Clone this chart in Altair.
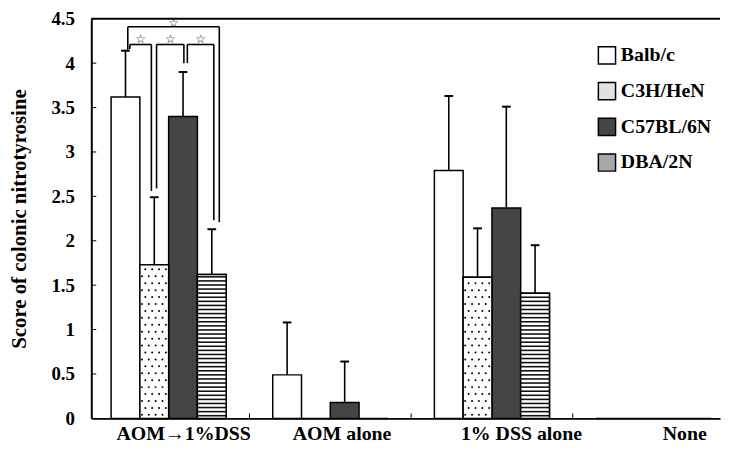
import altair as alt
import numpy as np
import pandas as pd

# ---------------- data ----------------
categories = ["AOM→1%DSS", "AOM alone", "1% DSS alone", "None"]
strains = ["Balb/c", "C3H/HeN", "C57BL/6N", "DBA/2N"]

mean_balbc = [3.62, 0.49, 2.79, 0.0]
mean_c3h = [1.73, 0.0, 1.59, 0.0]
mean_c57 = [3.40, 0.18, 2.37, 0.0]
mean_dba = [1.62, 0.0, 1.41, 0.0]

sd_balbc = [0.52, 0.59, 0.84, 0.0]
sd_c3h = [0.76, 0.0, 0.55, 0.0]
sd_c57 = [0.50, 0.46, 1.14, 0.0]
sd_dba = [0.51, 0.0, 0.54, 0.0]

# where each group label sits relative to its group centre (group units)
label_nudge = [0.09, 0.07, 0.18, 0.19]

# significance brackets (all within "AOM→1%DSS")
brk_left = ["Balb/c", "Balb/c", "C3H/HeN", "C57BL/6N"]
brk_right = ["DBA/2N", "C3H/HeN", "C57BL/6N", "DBA/2N"]
brk_level = [4.41, 4.21, 4.21, 4.21]
brk_left_foot = [4.14, 4.16, 2.59, 4.00]
brk_right_foot = [2.21, 2.56, 4.00, 2.23]
brk_star = [4.455, 4.275, 4.275, 4.275]
brk_left_nudge = [0.08, 0.15, 0.08, 0.15]
brk_right_nudge = [0.26, -0.10, 0.03, 0.07]

y_ticks = [0.5, 1, 1.5, 2, 2.5, 3, 3.5, 4, 4.5]

# ---------------- layout helpers ----------------
BW = 0.178  # bar width in group units
W, H = 634, 403
FONT = "Liberation Serif"

means = [mean_balbc, mean_c3h, mean_c57, mean_dba]
sds = [sd_balbc, sd_c3h, sd_c57, sd_dba]

rows = []
for si, s in enumerate(strains):
    for gi, c in enumerate(categories):
        xc = gi + (si - 1.5) * BW
        m = means[si][gi]
        sd = sds[si][gi]
        rows.append(dict(category=c, strain=s, xc=xc, x0=xc - BW / 2, x1=xc + BW / 2,
                         mean=m, base=0.0, top=m + sd, sd=sd,
                         cap0=xc - 0.027, cap1=xc + 0.027))
df = pd.DataFrame(rows)
df_err = df[df["sd"] > 0]

# hatching for DBA/2N bars (horizontal lines) – decoration derived from the bar values
hatch = []
for _, r in df[(df.strain == "DBA/2N") & (df["mean"] > 0)].iterrows():
    for yv in np.arange(0.03, r["mean"] - 0.02, 0.046):
        hatch.append(dict(x0=r.x0, x1=r.x1, y=yv))
df_hatch = pd.DataFrame(hatch)

# dot texture for C3H/HeN bars – decoration derived from the bar values
dots = []
for _, r in df[(df.strain == "C3H/HeN") & (df["mean"] > 0)].iterrows():
    for j, yv in enumerate(np.arange(0.04, r["mean"] - 0.03, 0.078)):
        shift = 0.5 if j % 2 else 0.0
        for k in range(4):
            xv = r.x0 + BW * (k + 0.3 + shift) / 4.2
            if xv < r.x1 - 0.01:
                dots.append(dict(x=xv, y=yv))
df_dots = pd.DataFrame(dots)

seg = []
stars = []
for i in range(len(brk_left)):
    xl = 0 + (strains.index(brk_left[i]) - 1.5) * BW + brk_left_nudge[i] * BW
    xr = 0 + (strains.index(brk_right[i]) - 1.5) * BW + brk_right_nudge[i] * BW
    lv = brk_level[i]
    seg.append(dict(x=xl, x2=xl, y=brk_left_foot[i], y2=lv))
    seg.append(dict(x=xl, x2=xr, y=lv, y2=lv))
    seg.append(dict(x=xr, x2=xr, y=brk_right_foot[i], y2=lv))
    stars.append(dict(x=(xl + xr) / 2, y=brk_star[i], t="☆"))
df_seg = pd.DataFrame(seg)
df_star = pd.DataFrame(stars)

xdom = [-0.4785, -0.4785 + W / 163.0]
xscale = alt.Scale(domain=xdom, nice=False, zero=False)
yscale = alt.Scale(domain=[0, 4.5], nice=False)

label_expr = "[" + ",".join("'" + c + "'" for c in categories) + "][floor(datum.value + 0.5)]"
label_pos = [i + label_nudge[i] for i in range(len(categories))]

x_axis = alt.Axis(values=label_pos, labelExpr=label_expr, title=None,
                  labelFontSize=20, labelPadding=5, labelFlush=False)
y_axis = alt.Axis(values=[0, 0.5, 1, 1.5, 2, 2.5, 3, 3.5, 4, 4.5], format="~g",
                  title="Score of colonic nitrotyrosine",
                  labelFontSize=19, labelPadding=17, titleFontSize=21,
                  titlePadding=22)

base = alt.Chart(df)

bars = base.mark_bar(stroke="black", strokeWidth=1.5).encode(
    x=alt.X("x0:Q", scale=xscale, axis=x_axis),
    x2="x1:Q",
    y=alt.Y("mean:Q", scale=yscale, axis=y_axis),
    y2="base:Q",
    color=alt.Color("strain:N",
                    scale=alt.Scale(domain=strains,
                                    range=["#ffffff", "#e2e2e2", "#454545", "#a8a8a8"]),
                    legend=alt.Legend(orient="top-right", offset=8, title=" ",
                                      titleFontSize=8, titlePadding=11,
                                      symbolType="square", symbolSize=300,
                                      symbolStrokeColor="black", symbolStrokeWidth=1.5,
                                      labelFont=FONT, labelFontSize=20,
                                      labelFontWeight="bold", labelColor="black",
                                      rowPadding=12)),
)

white_over = base.transform_filter(
    ((alt.datum.strain == "DBA/2N") | (alt.datum.strain == "C3H/HeN")) & (alt.datum.mean > 0)
).mark_bar(fill="white", stroke="black", strokeWidth=1.5).encode(
    x=alt.X("x0:Q", scale=xscale), x2="x1:Q",
    y=alt.Y("mean:Q", scale=yscale), y2="base:Q"
)

hatch_lines = alt.Chart(df_hatch).mark_rule(color="#111111", strokeWidth=1.6).encode(
    x=alt.X("x0:Q", scale=xscale), x2="x1:Q", y=alt.Y("y:Q", scale=yscale)
)
dot_marks = alt.Chart(df_dots).mark_circle(color="black", size=4, opacity=1).encode(
    x=alt.X("x:Q", scale=xscale), y=alt.Y("y:Q", scale=yscale)
)

err = alt.Chart(df_err).mark_rule(color="black", strokeWidth=1.6).encode(
    x=alt.X("xc:Q", scale=xscale), y=alt.Y("mean:Q", scale=yscale), y2="top:Q"
)
cap = alt.Chart(df_err).mark_rule(color="black", strokeWidth=2).encode(
    x=alt.X("cap0:Q", scale=xscale), x2="cap1:Q", y=alt.Y("top:Q", scale=yscale)
)

brk = alt.Chart(df_seg).mark_rule(color="black", strokeWidth=1.6).encode(
    x=alt.X("x:Q", scale=xscale), x2="x2:Q",
    y=alt.Y("y:Q", scale=yscale), y2="y2:Q"
)
star = alt.Chart(df_star).mark_text(font="DejaVu Sans", fontSize=12, fontWeight="bold",
                                    color="black", baseline="middle").encode(
    x=alt.X("x:Q", scale=xscale), y=alt.Y("y:Q", scale=yscale), text="t:N"
)

frame_top = alt.Chart(pd.DataFrame({"v": [4.5]})).mark_rule(color="black", strokeWidth=2).encode(
    y=alt.Y("v:Q", scale=yscale), x=alt.value(0), x2=alt.value(W)
)
ytick = alt.Chart(pd.DataFrame({"v": y_ticks})).mark_rule(color="black", strokeWidth=1).encode(
    y=alt.Y("v:Q", scale=yscale), x=alt.value(0), x2=alt.value(5)
)
xtick = alt.Chart(pd.DataFrame({"v": [0.5, 1.5, 2.5]})).mark_rule(color="black", strokeWidth=1).encode(
    x=alt.X("v:Q", scale=xscale), y=alt.value(H), y2=alt.value(H - 5)
)

chart = alt.layer(bars, white_over, hatch_lines, dot_marks, err, cap, brk, star,
                  frame_top, ytick, xtick).properties(
    width=W, height=H,
    padding=0,
).configure_view(stroke=None).configure_axis(
    labelFont=FONT, labelFontWeight="bold", labelColor="black",
    titleFont=FONT, titleFontWeight="bold", titleColor="black",
    domainColor="black", domainWidth=2, ticks=False, grid=False,
)

chart.save("out.html", embed_options={"renderer": "svg", "actions": False})
